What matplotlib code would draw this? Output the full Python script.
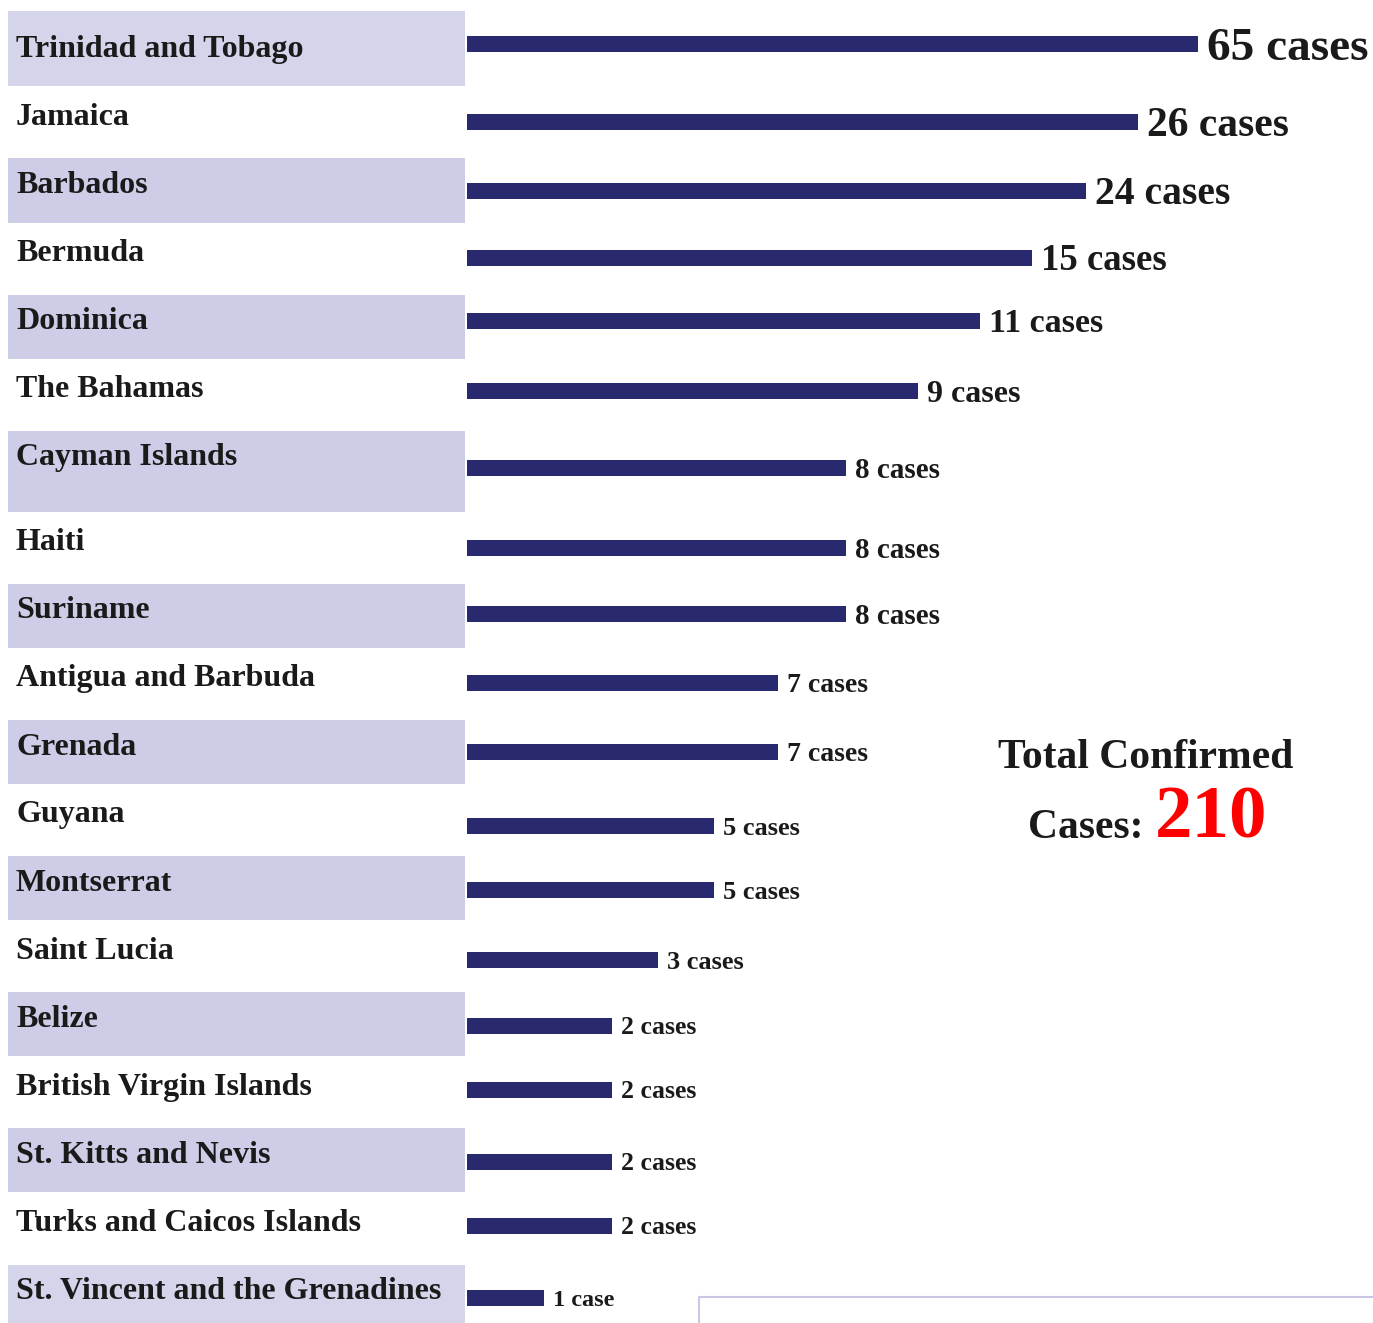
import numpy as np
import matplotlib.pyplot as plt

plt.rcParams['font.family'] = ['Liberation Serif', 'DejaVu Serif']

countries = ['Trinidad and Tobago', 'Jamaica', 'Barbados', 'Bermuda', 'Dominica',
             'The Bahamas', 'Cayman Islands', 'Haiti', 'Suriname', 'Antigua and Barbuda',
             'Grenada', 'Guyana', 'Montserrat', 'Saint Lucia', 'Belize',
             'British Virgin Islands', 'St. Kitts and Nevis', 'Turks and Caicos Islands',
             'St. Vincent and the Grenadines']
cases = [65, 26, 24, 15, 11, 9, 8, 8, 8, 7, 7, 5, 5, 3, 2, 2, 2, 2, 1]
# drawn bar lengths as they appear in the graphic (not proportional to cases)
bar_length = [731, 671, 619, 565, 513, 451, 379, 379, 379, 311, 311, 247, 247, 191, 145, 145, 145, 145, 77]
total = 210

# layout (pixels)
row_h = [75, 72, 65, 72, 64, 72, 81, 72, 64, 72, 64, 72, 64, 72, 64, 72, 64, 73, 58]
bar_off = [33, 36, 33, 35, 26, 32, 37, 36, 30, 35, 32, 42, 34, 40, 34, 34, 34, 34, 33]
name_off = [35, 28, 24, 27, 23, 27, 23, 27, 23, 27, 24, 27, 24, 28, 24, 28, 24, 28, 23]
label_pt = [34, 30, 28.5, 26.5, 24.5, 23, 21, 21, 21, 20, 20, 19, 19, 19, 18.5, 18.5, 18.5, 18.5, 17.5]
row_top = 11 + np.concatenate([[0], np.cumsum(row_h)[:-1]])
bar_y = row_top + np.array(bar_off)
name_y = row_top + np.array(name_off)

px = 100 / 72.0  # pixels per point


def cap_mid(pt):
    # shift from visual middle of capitals to baseline
    return 0.33 * pt * px


fig = plt.figure(figsize=(13.73, 13.23), dpi=100)
ax = fig.add_axes([0, 0, 1, 1])
ax.set_xlim(0, 1373)
ax.set_ylim(1323, 0)
ax.axis('off')

# shaded bands behind every other country name
for i in range(0, len(countries), 2):
    c = '#d4d4ea' if i in (0, len(countries) - 1) else '#cdcde7'
    ax.barh(row_top[i], 457, height=row_h[i], left=8, align='edge', color=c, linewidth=0)

ax.barh(bar_y, bar_length, left=467, height=16, color='#29296f', linewidth=0)

txt = '#1a1a1a'
for i, name in enumerate(countries):
    ax.text(16, name_y[i] + cap_mid(23), name, fontsize=23, fontweight='bold', color=txt,
            va='baseline')
    lab = '%d case' % cases[i] if cases[i] == 1 else '%d cases' % cases[i]
    ax.text(467 + bar_length[i] + 9, bar_y[i] + cap_mid(label_pt[i]), lab, fontsize=label_pt[i],
            fontweight='bold', color=txt, va='baseline')

ax.text(1146, 768, 'Total Confirmed', fontsize=30, fontweight='bold', color=txt,
        ha='center', va='baseline')
ax.text(1143, 838, 'Cases:', fontsize=30, fontweight='bold', color=txt, ha='right', va='baseline')
ax.text(1155, 838, str(total), fontsize=54, fontweight='bold', color='#ff0000',
        ha='left', va='baseline')

# light frame in the bottom right corner
ax.plot([699, 699, 1373], [1323, 1297, 1297], color='#c8c8e4', linewidth=1.5)

fig.savefig('out.png', dpi=100)
